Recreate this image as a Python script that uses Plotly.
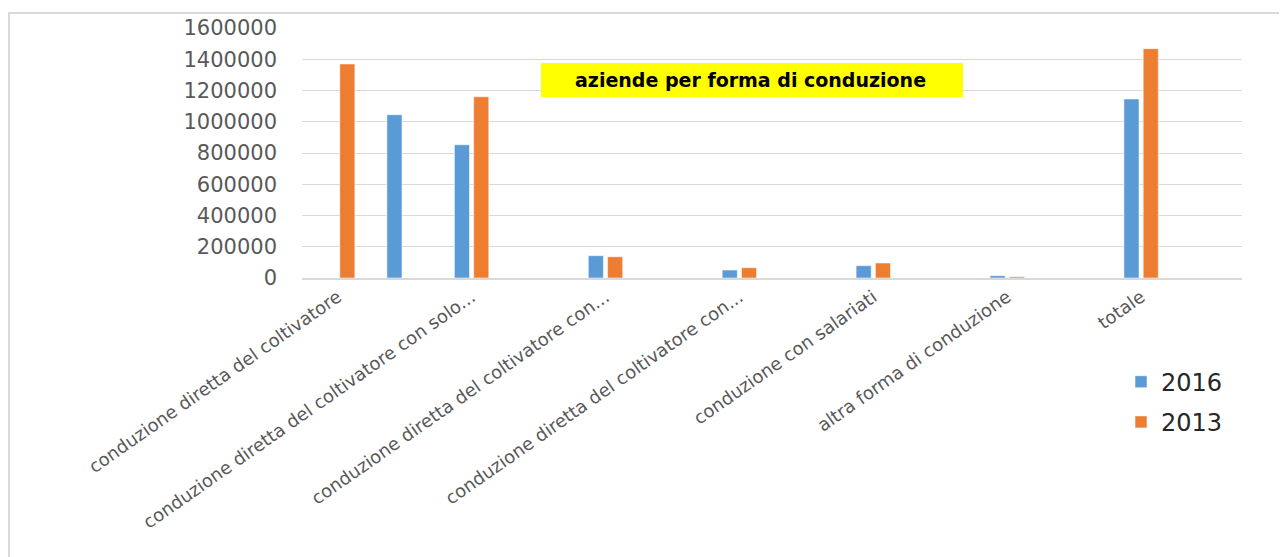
import plotly.graph_objects as go

# ---- data ----
categories = [
    "conduzione diretta del coltivatore",
    "conduzione diretta del coltivatore con solo manodopera familiare",
    "conduzione diretta del coltivatore con manodopera familiare prevalente",
    "conduzione diretta del coltivatore con manodopera extrafamiliare prevalente",
    "conduzione con salariati",
    "altra forma di conduzione",
    "totale",
]
tick_labels = [
    "conduzione diretta del coltivatore",
    "conduzione diretta del coltivatore con solo...",
    "conduzione diretta del coltivatore con...",
    "conduzione diretta del coltivatore con...",
    "conduzione con salariati",
    "altra forma di conduzione",
    "totale",
]
values_2016 = [1045000, 853000, 143000, 51000, 79000, 15000, 1146000]
values_2013 = [1370000, 1160000, 136000, 66000, 96000, 8000, 1468000]
y_ticks = [0, 200000, 400000, 600000, 800000, 1000000, 1200000, 1400000, 1600000]
title_text = "aziende per forma di conduzione"

# ---- styling ----
BLUE = "#5B9BD5"
ORANGE = "#ED7D31"
GRID = "#D9D9D9"
TXT = "#595959"
bar_w = 0.113
off_2016 = [0.368] + [-0.128] * 6
off_2013 = [0.016] * 7

OFF = 8  # page body margin
W, H = 1287 - OFF, 557 - OFF
# plot area in screen pixels: x 302..1242, y 28..278.3
L = 302 - OFF
T = 28 - OFF
R = W - (1242 - OFF)
B = H - (278.3 - OFF)
pw, ph = W - L - R, H - T - B


def px_x(x):
    return (x - OFF - L) / pw


def px_y(y):
    return (H - B - (y - OFF)) / ph


fig = go.Figure()
fig.add_trace(go.Bar(
    x=categories, y=values_2016, name="2016", legendgroup="a",
    offset=off_2016, width=bar_w,
    marker=dict(color=BLUE, line=dict(color="rgba(255,255,255,0.55)", width=1)),
))
fig.add_trace(go.Bar(
    x=categories, y=values_2013, name="2013", legendgroup="b",
    offset=off_2013, width=bar_w,
    marker=dict(color=ORANGE, line=dict(color="rgba(255,255,255,0.55)", width=1)),
))

fig.update_layout(
    width=W, height=H,
    margin=dict(l=L, r=R, t=T, b=B, autoexpand=False),
    paper_bgcolor="white", plot_bgcolor="white",
    barmode="overlay",
    font=dict(family="DejaVu Sans", color=TXT),
    showlegend=True,
    legend=dict(
        x=px_x(1121), y=px_y(360), xanchor="left", yanchor="top",
        font=dict(size=24, color="#262626", family="DejaVu Sans"),
        tracegroupgap=6, bgcolor="rgba(0,0,0,0)",
    ),
    xaxis=dict(
        type="category",
        tickvals=categories, ticktext=tick_labels,
        range=[-0.266, 6.754],
        tickangle=-35,
        tickfont=dict(size=18, color=TXT, family="DejaVu Sans"),
        showgrid=False, showline=True, linecolor=GRID, linewidth=1.5,
        ticks="", automargin=False,
    ),
    yaxis=dict(
        range=[0, 1600000],
        tickvals=y_ticks, tickformat="d",
        showgrid=True, gridcolor=GRID, gridwidth=1.3,
        zeroline=False, showline=False, ticks="",
        tickfont=dict(size=21, color=TXT, family="DejaVu Sans"),
        ticklabelstandoff=24, automargin=False,
    ),
    shapes=[
        dict(type="rect", xref="paper", yref="paper",
             x0=px_x(541), x1=px_x(963), y0=px_y(97), y1=px_y(63),
             fillcolor="#FFFF00", line=dict(width=0), layer="above"),
        dict(type="rect", xref="paper", yref="paper",
             x0=px_x(9), x1=px_x(1285), y0=px_y(575), y1=px_y(13),
             fillcolor="rgba(0,0,0,0)", line=dict(color=GRID, width=2)),
    ],
    annotations=[
        dict(text="<b>" + title_text + "</b>", xref="paper", yref="paper",
             x=px_x(750), y=px_y(80), xanchor="center", yanchor="middle",
             showarrow=False, font=dict(size=19, color="black", family="DejaVu Sans")),
    ],
)

fig.write_html("out.html")
